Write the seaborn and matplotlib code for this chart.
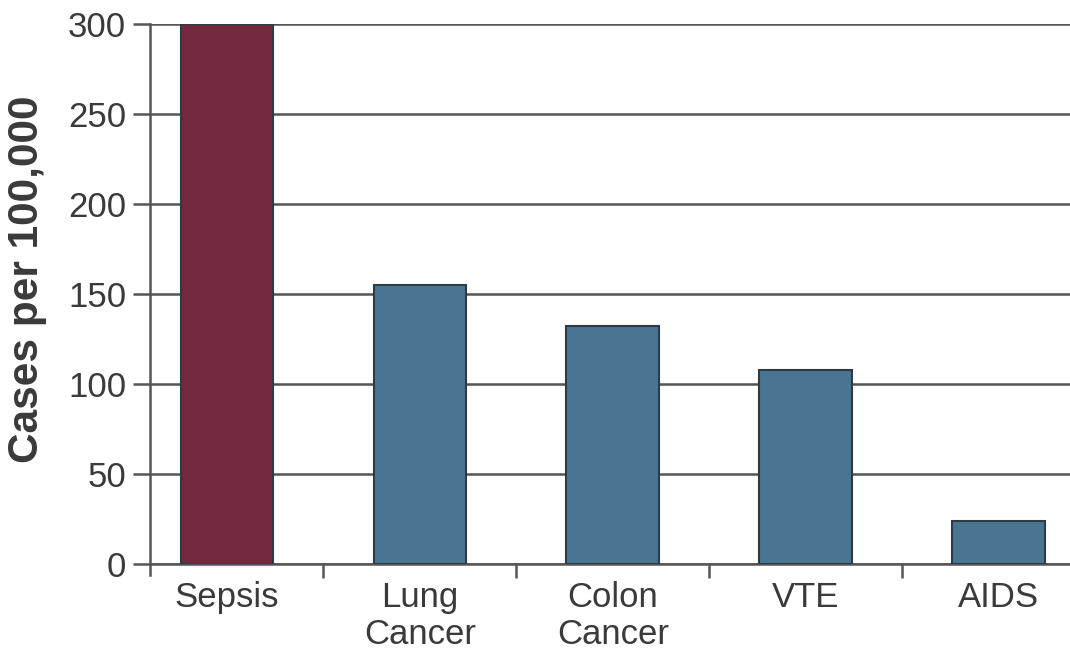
import matplotlib
matplotlib.use("Agg")
import matplotlib.pyplot as plt
from matplotlib.ticker import FixedLocator
import seaborn as sns
import pandas as pd

categories = ["Sepsis", "Lung\nCancer", "Colon\nCancer", "VTE", "AIDS"]
cases = [300, 155, 132, 108, 24]
bar_colors = ["#74283D", "#4A7592", "#4A7592", "#4A7592", "#4A7592"]
y_ticks = [0, 50, 100, 150, 200, 250, 300]

sns.set_theme(style="white")
plt.rcParams["font.family"] = ["Liberation Sans", "DejaVu Sans"]

df = pd.DataFrame({"category": categories, "cases": cases})

fig = plt.figure(figsize=(10.7, 6.57), dpi=100)
ax = fig.add_axes([0.140, 0.1416, 0.860, 0.8219])

sns.barplot(data=df, x="category", y="cases", hue="category",
            palette=bar_colors, saturation=1, legend=False, width=0.48,
            edgecolor="#2E3A44", linewidth=1.5, ax=ax, zorder=3)

ax.set_xlim(-0.40, 4.37)
ax.set_ylim(0, 300)
ax.set_yticks(y_ticks)
ax.yaxis.grid(True, color="#555555", linewidth=1.8, zorder=0)
ax.set_axisbelow(True)

for side in ["top", "right"]:
    ax.spines[side].set_visible(False)
ax.spines["left"].set_color("#555555")
ax.spines["left"].set_linewidth(1.8)
ax.spines["left"].set_bounds(-6, 300)
ax.spines["bottom"].set_color("#555555")
ax.spines["bottom"].set_linewidth(1.8)

ax.tick_params(axis="y", which="major", direction="out", length=12, width=1.8,
               color="#555555", labelsize=25, labelcolor="#3a3a3a", pad=5, left=True)
ax.tick_params(axis="x", which="major", length=0, labelsize=25,
               labelcolor="#3a3a3a", pad=12)
ax.xaxis.set_minor_locator(FixedLocator([0.5, 1.5, 2.5, 3.5]))
ax.tick_params(axis="x", which="minor", direction="out", length=10, width=1.8,
               color="#555555", bottom=True)

ax.set_xlabel("")
ax.set_ylabel("Cases per 100,000", fontsize=30.5, fontweight="bold",
              color="#3a3a3a")
ax.yaxis.set_label_coords(-0.112, 0.528)
for lbl in ax.get_xticklabels():
    lbl.set_linespacing(1.15)

fig.savefig("out.png", dpi=100, facecolor="white")
